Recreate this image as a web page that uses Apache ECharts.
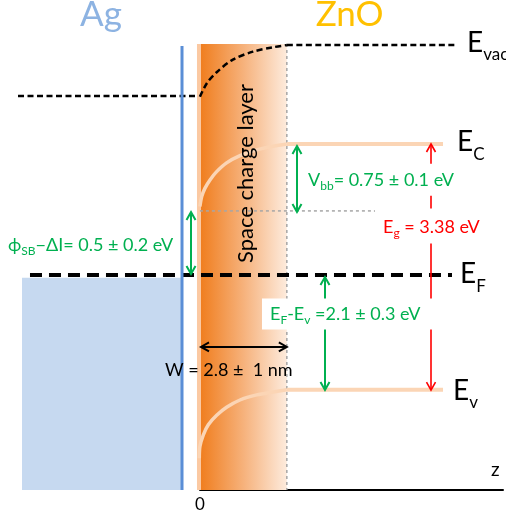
<!DOCTYPE html>
<html><head><meta charset="utf-8">
<script src="https://cdn.jsdelivr.net/npm/echarts@6/dist/echarts.min.js"></script>
<style>html,body{margin:0;padding:0;background:#fff;}#chart{width:506px;height:520px;}</style>
</head><body><div id="chart"></div>
<script>
// z: position (nm) measured from the ZnO surface; E: energy (eV) relative to E_F
const materials = ['Ag', 'ZnO'];
const levelSubs = ['vac', 'C', 'F', 'v'];
const levelBulkE = [3.16, 1.80, 0.00, -1.58];   // E_vac, E_C, E_F, E_v in bulk ZnO
const W_nm = 2.8;                 // space charge layer width
const agVacE = 2.46;              // vacuum level on the Ag side
const surfCbE = 0.88;             // E_C at the interface
const agFillTopE = -0.04;         // filled states of Ag (up to E_F)

const vacCurveZ = [0, 0.23, 0.55, 1.06, 1.71, 2.35, 2.8];
const vacCurveE = [2.45, 2.64, 2.79, 2.96, 3.07, 3.13, 3.16];
const cbCurveZ = [0.00, 0.06, 0.16, 0.33, 0.54, 0.86, 1.29, 1.83, 2.36, 2.80];
const cbCurveE = [0.94, 1.08, 1.19, 1.31, 1.42, 1.54, 1.64, 1.72, 1.77, 1.80];
const vbCurveZ = [-0.02, 0.00, 0.11, 0.27, 0.54, 0.86, 1.29, 1.83, 2.36, 2.80];
const vbCurveE = [-2.52, -2.36, -2.20, -2.06, -1.93, -1.82, -1.72, -1.65, -1.61, -1.58];

const zTickValues = [0];
const zTickLabels = ['0'];
const zAxisName = 'z';

const noteTexts = [
  '{m|V}{s|bb}{m|= 0.75 ± 0.1 eV}',
  '{m|E}{s|g}{m| = 3.38 eV}',
  '{m|E}{s|F}{m|-E}{s|v}{m| =2.1 ± 0.3 eV}',
  '{m|ϕ}{s|SB}{m|−ΔI= 0.5 ± 0.2 eV}',
  '{m|W = 2.8 ±  1 nm}'
];
const layerText = 'Space charge layer';

// ---------------- rendering ----------------
const FONT = 'Lato, "Open Sans", sans-serif';
const GREEN = '#00b050', RED = '#ff0000', BAND = '#fbd5b5';
const zip = (a, b) => a.map((v, i) => [v, b[i]]);
const Z_MIN = -6.44, Z_MAX = 9.86, E_MIN = -3.37, E_MAX = 3.78;
const E_TOP = 3.175, E_BOT = -2.957;

function lineS(data, color, width, dash, z, smooth) {
  return {type: 'line', xAxisIndex: 0, yAxisIndex: 0, data, showSymbol: false, symbol: 'none',
    smooth: smooth ? 0.3 : false,
    lineStyle: {color, width, type: dash || 'solid', cap: 'butt'}, silent: true, z, clip: false};
}
function rectS(box, fill, z) {
  return {type: 'custom', xAxisIndex: 0, yAxisIndex: 0, z, silent: true, data: [box],
    renderItem(p, api) {
      const a = api.coord([api.value(0), api.value(1)]);
      const b = api.coord([api.value(2), api.value(3)]);
      return {type: 'rect', shape: {x: a[0], y: a[1], width: b[0] - a[0], height: b[1] - a[1]}, style: {fill}};
    }};
}
function arrowS(items, color, width, z) {
  return {type: 'custom', xAxisIndex: 0, yAxisIndex: 0, z, silent: true, data: items,
    renderItem(p, api) {
      const a = api.coord([api.value(0), api.value(1)]);
      const b = api.coord([api.value(2), api.value(3)]);
      const dx = b[0] - a[0], dy = b[1] - a[1], len = Math.hypot(dx, dy), ux = dx / len, uy = dy / len;
      const L = 8, H = 4.5;
      const head = (q, sx, sy) => [[q[0] - sx * L - sy * H, q[1] - sy * L + sx * H], [q[0], q[1]], [q[0] - sx * L + sy * H, q[1] - sy * L - sx * H]];
      const st = {stroke: color, lineWidth: width, fill: null};
      return {type: 'group', children: [
        {type: 'line', shape: {x1: a[0], y1: a[1], x2: b[0], y2: b[1]}, style: st},
        {type: 'polyline', shape: {points: head(b, ux, uy)}, style: st},
        {type: 'polyline', shape: {points: head(a, -ux, -uy)}, style: st}
      ]};
    }};
}
function richFor(color, size, sub, pad) {
  return {
    m: {fill: color, fontSize: size, fontFamily: FONT, lineHeight: size + 3},
    s: {fill: color, fontSize: sub, fontFamily: FONT, lineHeight: sub + 1, padding: [pad, 0, 0, 0]}
  };
}
function textS(items, z) {
  return {type: 'custom', xAxisIndex: 0, yAxisIndex: 0, z, silent: true, data: items.map(t => t.at),
    renderItem(p, api) {
      const t = items[p.dataIndex];
      const q = api.coord([api.value(0), api.value(1)]);
      const style = {legacy: false, text: t.text, fontFamily: FONT, fontSize: t.size || 18, fill: t.color || '#000',
        align: t.align || 'left', verticalAlign: 'middle'};
      if (t.rich) style.rich = t.rich;
      if (t.bg) { style.backgroundColor = t.bg; style.padding = t.pad; }
      return {type: 'text', x: q[0], y: q[1], rotation: t.rot || 0, style};
    }};
}

const small = c => richFor(c, 18, 12, 12);
const big = {M: {fill: '#000', fontSize: 28, fontFamily: FONT, lineHeight: 31},
  S: {fill: '#000', fontSize: 17, fontFamily: FONT, lineHeight: 18, padding: [24, 0, 0, 0]}};
const levelLabelAt = [[8.604, 3.189], [8.282, 1.827], [8.378, 0.012], [8.153, -1.596]];

const texts = [
  {at: [3.353, 1.31], text: noteTexts[0], rich: small(GREEN), bg: '#fff', pad: [6, 6, 5, 4]},
  {at: [5.769, 0.673], text: noteTexts[1], rich: small(RED), bg: '#fff', pad: [8, 4, 6, 4]},
  {at: [2.0, -0.537], text: noteTexts[2], rich: small(GREEN), bg: '#fff', pad: [5, 22, 5, 8]},
  {at: [-6.182, 0.411], text: noteTexts[3], rich: small(GREEN)},
  {at: [-1.125, -1.308], text: noteTexts[4], rich: small('#000')},
  {at: [1.484, 1.394], text: layerText, size: 22, align: 'center', rot: Math.PI / 2},
  {at: [-3.19, 3.58], text: materials[0], size: 35, align: 'center', color: '#8db3e2'},
  {at: [4.82, 3.58], text: materials[1], size: 35, align: 'center', color: '#ffc000'}
].concat(levelSubs.map((s, i) => ({at: levelLabelAt[i], text: '{M|E}{S|' + s + '}', rich: big})));

const option = {
  animation: false,
  grid: [{left: 0, right: 0, top: 0, bottom: 0}, {left: 200, right: 0, top: 0, bottom: 30}],
  xAxis: [
    {gridIndex: 0, type: 'value', min: Z_MIN, max: Z_MAX, show: false},
    {gridIndex: 1, type: 'value', min: 0, max: Z_MAX, interval: 10,
      axisLine: {show: true, onZero: false, lineStyle: {color: '#000', width: 2}},
      axisTick: {show: false}, splitLine: {show: false},
      axisLabel: {show: true, margin: 6, fontSize: 17, color: '#000', fontFamily: FONT,
        formatter: v => { const i = zTickValues.indexOf(v); return i >= 0 ? zTickLabels[i] : ''; }},
      name: zAxisName, nameLocation: 'end', nameGap: -12,
      nameTextStyle: {fontSize: 19, color: '#000', fontFamily: FONT, verticalAlign: 'bottom', padding: [0, 0, 11, 0]}}
  ],
  yAxis: [
    {gridIndex: 0, type: 'value', min: E_MIN, max: E_MAX, show: false},
    {gridIndex: 1, type: 'value', min: 0, max: 1, show: false}
  ],
  series: [
    rectS([-5.731, agFillTopE, -0.609, E_BOT], '#c6d9f0', 1),
    rectS([0.03, E_TOP, W_nm, E_BOT], new echarts.graphic.LinearGradient(0, 0, 1, 0, [
      {offset: 0, color: '#f07e1f'}, {offset: 0.5, color: '#f6b27c'}, {offset: 1, color: '#fdebdd'}]), 1),
    lineS([[-0.03, E_TOP], [-0.03, E_BOT]], '#fbc9a2', 4, null, 2),
    lineS([[W_nm, E_TOP], [W_nm, E_BOT]], '#a6a6a6', 1.5, [3, 3], 2),
    lineS([[0, surfCbE], [5.64, surfCbE]], '#a6a6a6', 1.5, [3, 3], 2),
    lineS(zip(cbCurveZ, cbCurveE), BAND, 3.5, null, 3, true),
    lineS([[W_nm, levelBulkE[1]], [7.831, levelBulkE[1]]], BAND, 4, null, 3),
    lineS(zip(vbCurveZ, vbCurveE), BAND, 3.5, null, 3, true),
    lineS([[W_nm, levelBulkE[3]], [7.831, levelBulkE[3]]], BAND, 4, null, 3),
    lineS([[-5.86, agVacE], [-0.126, agVacE]], '#000', 2.5, [6, 3.5], 3),
    lineS(zip(vacCurveZ, vacCurveE), '#000', 2.5, [6, 3.5], 3, true),
    lineS([[W_nm, levelBulkE[0]], [8.217, levelBulkE[0]]], '#000', 2.5, [6, 3.5], 3),
    lineS([[-5.474, levelBulkE[2]], [8.12, levelBulkE[2]]], '#000', 4, [12, 7], 3),
    lineS([[-0.577, 3.147], [-0.577, E_BOT]], '#5a8ed6', 3, null, 4),
    arrowS([[3.127, 1.772, 3.127, 0.865], [-0.287, 0.865, -0.287, 0.012], [4.029, -0.029, 4.029, -1.583]], GREEN, 2, 5),
    arrowS([[7.444, 1.80, 7.444, -1.583]], RED, 1.6, 5),
    arrowS([[0.035, -0.991, 2.8, -0.991]], '#000', 2, 5),
    textS(texts, 6)
  ]
};
const chart = echarts.init(document.getElementById('chart'), null, {renderer: 'canvas'});
chart.setOption(option);
</script></body></html>
